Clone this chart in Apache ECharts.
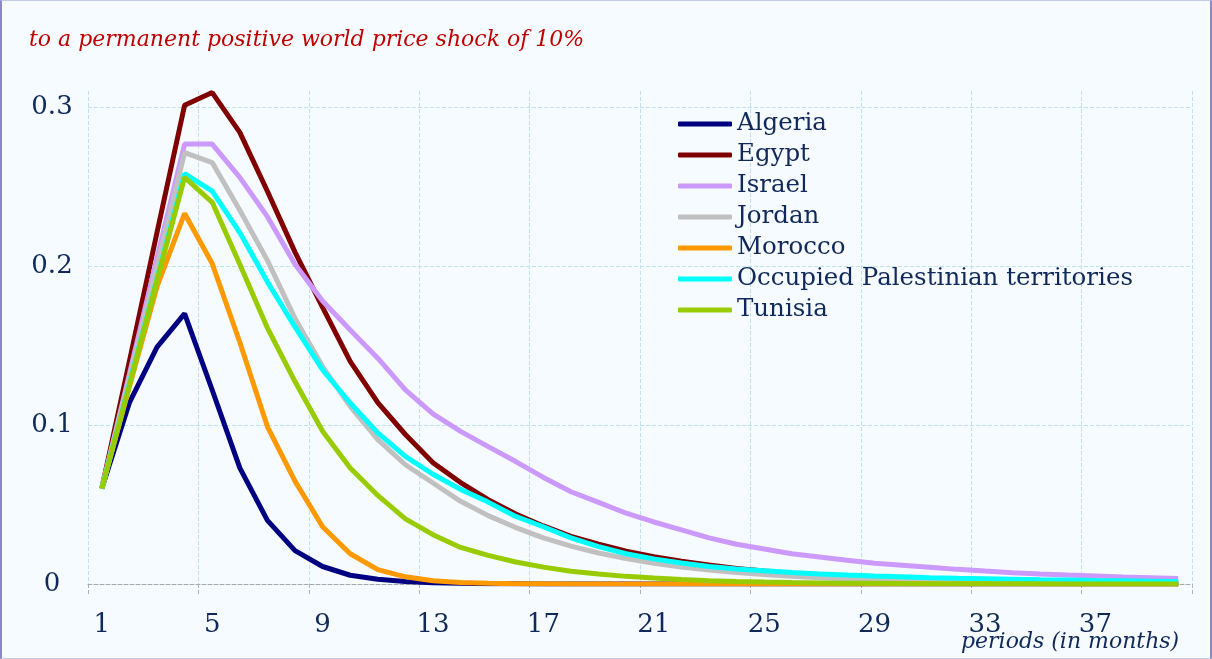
<!DOCTYPE html>
<html>
<head>
<meta charset="utf-8">
<script src="https://cdn.jsdelivr.net/npm/echarts@6/dist/echarts.min.js"></script>
<style>
  html, body { margin: 0; padding: 0; background: #f5fbff; }
  #chart {
    width: 1212px; height: 659px; box-sizing: border-box;
    border: 1px solid #c4cbe6; border-left: 2px solid #8a8ac6; border-right: 2px solid #8a8ac6;
    background: #f5fbff;
  }
</style>
</head>
<body>
<div id="chart"></div>
<script>
// periods (months)
var periods = ['1','2','3','4','5','6','7','8','9','10','11','12','13','14','15','16','17','18','19','20',
  '21','22','23','24','25','26','27','28','29','30','31','32','33','34','35','36','37','38','39','40'];

var countryNames = ['Algeria', 'Egypt', 'Israel', 'Jordan', 'Morocco', 'Occupied Palestinian territories', 'Tunisia'];
var countryColors = ['#000080', '#800000', '#cc99ff', '#c0c0c0', '#ff9900', '#00ffff', '#99cc00'];

var algeria = [0.06, 0.114, 0.149, 0.170, 0.122, 0.073, 0.040, 0.021, 0.011, 0.0055, 0.003, 0.0015, 0.0008, 0.0004, 0.0002, 0.0001,
  0, 0, 0, 0, 0, 0, 0, 0, 0, 0, 0, 0, 0, 0, 0, 0, 0, 0, 0, 0, 0, 0, 0, 0];
var egypt = [0.06, 0.14, 0.221, 0.301, 0.309, 0.284, 0.247, 0.2087, 0.174, 0.140, 0.114, 0.094, 0.0763, 0.0638, 0.053, 0.044,
  0.0365, 0.030, 0.025, 0.0207, 0.0172, 0.0143, 0.0119, 0.0098, 0.0082, 0.0068, 0.0056, 0.0047, 0.0039, 0.0032,
  0.0027, 0.0022, 0.0018, 0.0015, 0.0013, 0.0011, 0.0009, 0.0007, 0.0006, 0.0005];
var israel = [0.06, 0.132, 0.205, 0.2766, 0.2766, 0.2557, 0.231, 0.201, 0.178, 0.1597, 0.142, 0.122, 0.107, 0.096, 0.0864, 0.077,
  0.067, 0.058, 0.0513, 0.0445, 0.039, 0.034, 0.029, 0.025, 0.022, 0.019, 0.017, 0.015, 0.013, 0.0118,
  0.0105, 0.0092, 0.0081, 0.0071, 0.0063, 0.0056, 0.005, 0.0044, 0.0039, 0.0034];
var jordan = [0.06, 0.13, 0.20, 0.2713, 0.265, 0.235, 0.2035, 0.167, 0.1367, 0.1117, 0.0908, 0.075, 0.0635, 0.052, 0.043, 0.0355,
  0.029, 0.0238, 0.0195, 0.016, 0.0131, 0.0107, 0.0088, 0.0072, 0.0059, 0.0048, 0.0039, 0.0032, 0.0026, 0.0021,
  0.0017, 0.0014, 0.0011, 0.0009, 0.0007, 0.0006, 0.0005, 0.0004, 0.0003, 0.0003];
var morocco = [0.06, 0.124, 0.187, 0.233, 0.2015, 0.152, 0.099, 0.0647, 0.036, 0.019, 0.009, 0.0045, 0.002, 0.001, 0.0005, 0.0002,
  0.0001, 0, 0, 0, 0, 0, 0, 0, 0, 0, 0, 0, 0, 0, 0, 0, 0, 0, 0, 0, 0, 0, 0, 0];
var palestine = [0.06, 0.126, 0.192, 0.258, 0.247, 0.221, 0.190, 0.1617, 0.1346, 0.1138, 0.095, 0.0803, 0.069, 0.0595, 0.0515, 0.0425,
  0.036, 0.029, 0.0235, 0.019, 0.0158, 0.0132, 0.011, 0.0095, 0.0083, 0.0072, 0.0063, 0.0056, 0.005, 0.0045,
  0.004, 0.0036, 0.0033, 0.003, 0.0027, 0.0025, 0.0022, 0.002, 0.0018, 0.0016];
var tunisia = [0.06, 0.125, 0.191, 0.2557, 0.240, 0.201, 0.161, 0.1273, 0.096, 0.073, 0.0557, 0.041, 0.031, 0.023, 0.018, 0.0138,
  0.0106, 0.008, 0.0063, 0.0048, 0.0037, 0.0028, 0.0021, 0.0016, 0.0012, 0.0009, 0.0007, 0.0005, 0.0004, 0.0003,
  0.0002, 0.0002, 0.0001, 0.0001, 0.0001, 0, 0, 0, 0, 0];

var yTicks = ['0', '0.1', '0.2', '0.3'];

var seriesValues = [algeria, egypt, israel, jordan, morocco, palestine, tunisia];
var font = '"DejaVu Serif", "Liberation Serif", serif';
var navy = '#10295a';

var chart = echarts.init(document.getElementById('chart'), null, { renderer: 'canvas' });

var seriesList = [];
for (var i = 0; i < countryNames.length; i++) {
  seriesList.push({
    name: countryNames[i],
    type: 'line',
    data: seriesValues[i],
    symbol: 'none',
    color: countryColors[i],
    lineStyle: { width: 5, color: countryColors[i] },
    emphasis: { disabled: true }
  });
}

var option = {
  backgroundColor: '#f5fbff',
  animation: false,
  title: [
    {
      text: 'to a permanent positive world price shock of 10%',
      left: 27, top: 28, padding: 0,
      textStyle: { fontFamily: font, fontStyle: 'italic', fontWeight: 'normal', fontSize: 22, color: '#c00000' }
    },
    {
      text: 'periods (in months)',
      left: 959, top: 630, padding: 0,
      textStyle: { fontFamily: font, fontStyle: 'italic', fontWeight: 'normal', fontSize: 22, color: navy }
    }
  ],
  legend: {
    orient: 'vertical',
    left: 676, top: 110, padding: 0,
    itemWidth: 54, itemHeight: 5, itemGap: 5,
    icon: 'roundRect',
    data: countryNames,
    textStyle: { fontFamily: font, fontSize: 24.5, color: navy, lineHeight: 26 }
  },
  grid: { left: 86, right: 18, top: 90, bottom: 74, containLabel: false },
  xAxis: {
    type: 'category',
    data: periods,
    boundaryGap: true,
    axisLine: { lineStyle: { color: '#a8a8a8', type: 'dashed', width: 1 } },
    axisTick: { show: true, interval: 3, length: 10, lineStyle: { color: '#b0b0b0', type: 'dashed' } },
    axisLabel: { interval: 3, margin: 28, fontFamily: font, fontSize: 26, color: navy },
    splitLine: { show: true, interval: 3, lineStyle: { color: '#bfe2ee', type: 'dashed', width: 1 } }
  },
  yAxis: {
    type: 'value',
    min: 0, max: 0.31, interval: 0.1,
    axisLine: { show: false },
    axisTick: { show: false },
    axisLabel: {
      showMaxLabel: false, align: 'center', margin: 36,
      fontFamily: font, fontSize: 26, color: navy,
      formatter: function (v) { return yTicks[Math.round(v * 10)] || ''; }
    },
    splitLine: { show: true, showMaxLine: false, showMinLine: false, lineStyle: { color: '#bfe2ee', type: 'dashed', width: 1 } }
  },
  series: seriesList
};

chart.setOption(option);
</script>
</body>
</html>
